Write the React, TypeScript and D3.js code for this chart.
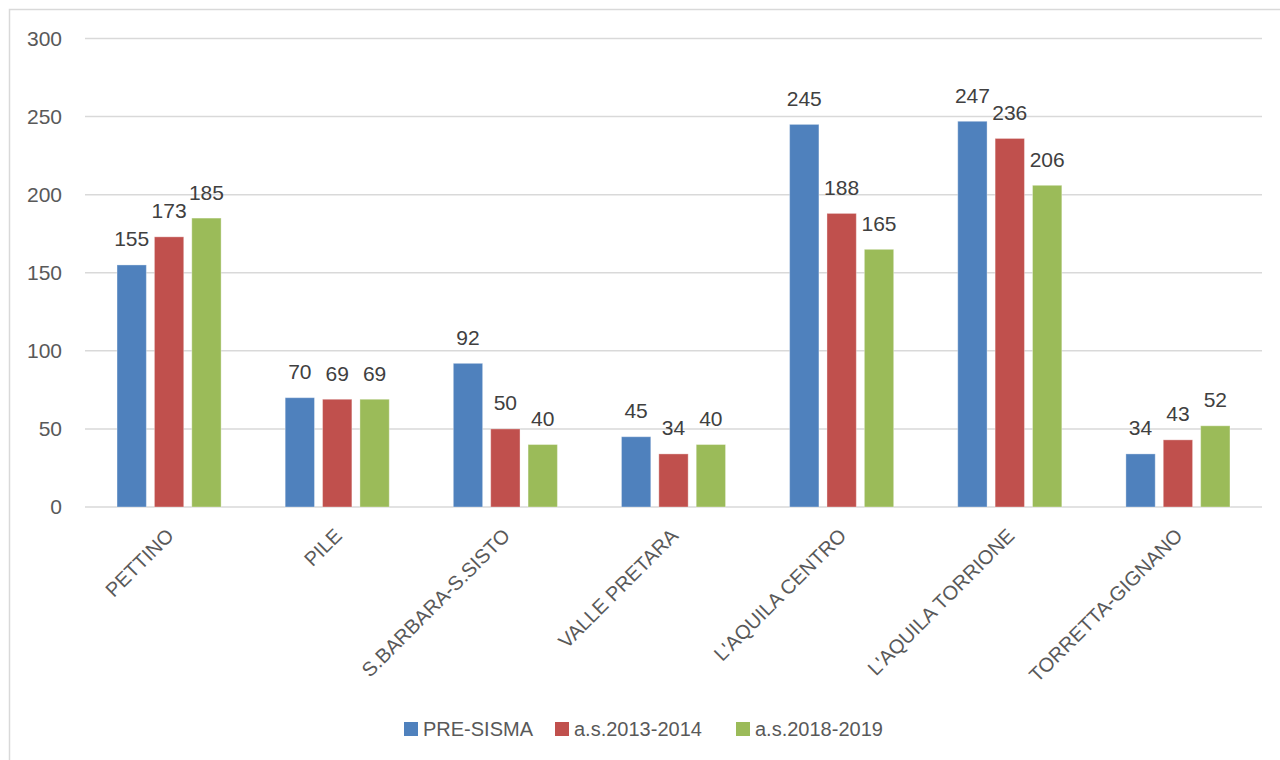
import React, { useEffect } from "react";
import * as d3 from "d3";

const categories = [
  "PETTINO",
  "PILE",
  "S.BARBARA-S.SISTO",
  "VALLE PRETARA",
  "L'AQUILA CENTRO",
  "L'AQUILA TORRIONE",
  "TORRETTA-GIGNANO",
];
const seriesNames = ["PRE-SISMA", "a.s.2013-2014", "a.s.2018-2019"];
const preSisma = [155, 70, 92, 45, 245, 247, 34];
const as2013 = [173, 69, 50, 34, 188, 236, 43];
const as2018 = [185, 69, 40, 40, 165, 206, 52];
const yTicks = [0, 50, 100, 150, 200, 250, 300];
const colors = ["#4F81BD", "#C0504D", "#9BBB59"];

const FONT = "'Liberation Sans', Arial, sans-serif";

export default function App() {
  useEffect(() => {
    document.body.style.margin = "0";
  }, []);

  const series = [preSisma, as2013, as2018];
  const x0 = d3.scaleBand<string>().domain(categories).range([85, 1262]).paddingInner(0.381).paddingOuter(0.1905);
  const x1 = d3.scaleBand<string>().domain(seriesNames).range([0, x0.bandwidth()]).paddingInner(0.2155).paddingOuter(0);
  const y = d3.scaleLinear().domain([0, 300]).range([507, 38.5]);

  const legendX = [404, 555, 736];

  return (
    <svg width={1280} height={760} style={{ position: "absolute", left: 0, top: 0, display: "block" }} fontFamily={FONT}>
      <rect x={0} y={0} width={1280} height={760} fill="#fff" />
      <rect x={9.5} y={9.5} width={1400} height={900} fill="none" stroke="#D9D9D9" strokeWidth={1.5} />
      {yTicks.map((t) => (
        <g key={t}>
          <line x1={85} x2={1262} y1={y(t)} y2={y(t)} stroke="#D9D9D9" strokeWidth={1.5} />
          <text x={62} y={y(t)} dy="0.35em" textAnchor="end" fontSize={21} fill="#595959">
            {t}
          </text>
        </g>
      ))}
      {categories.map((c, i) => (
        <g key={c}>
          {series.map((s, j) => {
            const bx = (x0(c) as number) + (x1(seriesNames[j]) as number);
            const bw = x1.bandwidth();
            return (
              <g key={j}>
                <rect x={bx} y={y(s[i])} width={bw} height={y(0) - y(s[i])} fill={colors[j]} stroke="#ffffff" strokeOpacity={0.35} strokeWidth={1} />
                <text x={bx + bw / 2} y={y(s[i]) - 18.5} textAnchor="middle" fontSize={21} fill="#404040">
                  {s[i]}
                </text>
              </g>
            );
          })}
          <text
            transform={`translate(${(x0(c) as number) + x0.bandwidth() / 2 + 1},532) rotate(-45)`}
            textAnchor="end"
            dy="0.35em"
            fontSize={20}
            fill="#595959"
          >
            {c}
          </text>
        </g>
      ))}
      {seriesNames.map((n, j) => (
        <g key={n}>
          <rect x={legendX[j]} y={722} width={14} height={14} fill={colors[j]} />
          <text x={legendX[j] + 19} y={736} fontSize={20} fill="#595959">
            {n}
          </text>
        </g>
      ))}
    </svg>
  );
}
